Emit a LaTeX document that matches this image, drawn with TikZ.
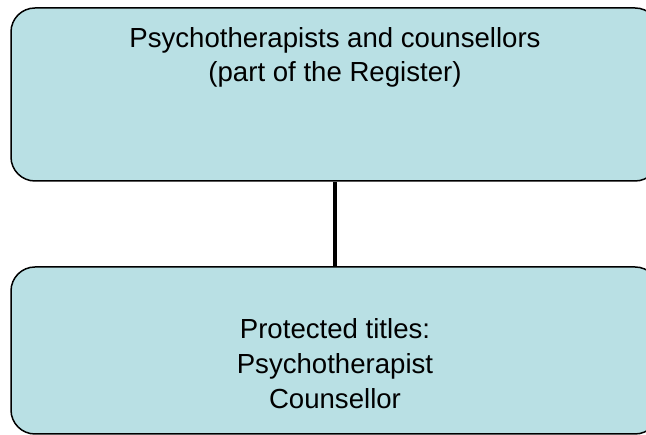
\documentclass[tikz,border=0pt]{standalone}
\usepackage{fontspec}
\setmainfont{Liberation Sans}
\definecolor{boxfill}{RGB}{185,224,228}
\tikzset{
  orgbox/.style={draw=black, line width=1.5pt, fill=boxfill, rounded corners=24pt,
    rectangle, inner sep=0pt, minimum width=648pt, minimum height=#1},
  boxtext/.style={anchor=base, inner sep=0pt, font=\fontsize{27.6}{34.6}\selectfont},
  link/.style={line width=4.5pt, draw=black}
}
\begin{document}
\begin{tikzpicture}[x=1pt,y=1pt]
\useasboundingbox (0,0) rectangle (646,435);
\node[orgbox=173pt] (top) at (335,340.5) {};
\node[orgbox=167pt] (bottom) at (335,84.5) {};
\draw[link] (top.south) -- (bottom.north);
\node[boxtext] (toptext) at (335,387.7)
  {\begin{tabular}[t]{@{}c@{}}Psychotherapists and counsellors\\(part of the Register)\end{tabular}};
\node[boxtext] (bottomtext) at (335,96)
  {\begin{tabular}[t]{@{}c@{}}Protected titles:\\Psychotherapist\\Counsellor\end{tabular}};
\end{tikzpicture}
\end{document}
